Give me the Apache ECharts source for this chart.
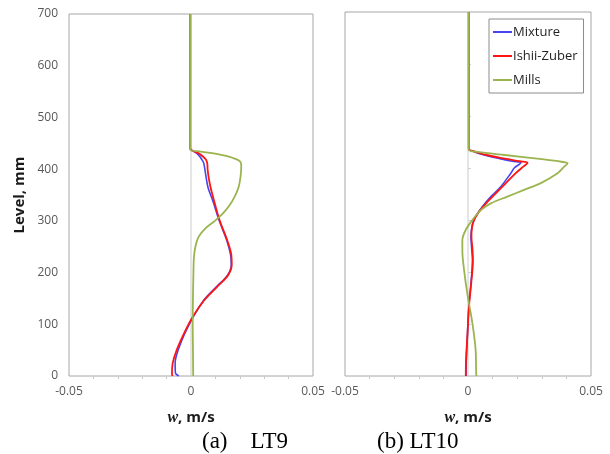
<!DOCTYPE html>
<html>
<head>
<meta charset="utf-8">
<script src="https://cdn.jsdelivr.net/npm/echarts@6/dist/echarts.min.js"></script>
<style>
  html, body { margin: 0; padding: 0; background: #fff; }
  #chart { width: 610px; height: 454px; }
</style>
</head>
<body>
<div id="chart"></div>
<script>
// [w (m/s), level (mm)]
var seriesNames = ['Mixture', 'Ishii-Zuber', 'Mills'];
var colores = ['#4646f0', '#ff1414', '#9bb44f'];
var levelTicks = [0, 100, 200, 300, 400, 500, 600, 700];
var wTicks = [-0.05, 0, 0.05];
var zeroLine = [[0, 0], [0, 700]];
var captions = ['(a)    LT9', '(b) LT10'];

var lt9Mixture = [[-0.0003,700],[-0.0003,440],[0.0005,436],[0.002,432],[0.0035,425],[0.0045,418],[0.0052,412],
    [0.0055,405],[0.006,390],[0.007,364],[0.009,338],[0.0116,300],[0.0146,263],[0.0162,235],[0.0165,215],
    [0.015,195],[0.0105,173],[0.0053,147],[0.001,115],[-0.0025,83],[-0.0052,51],[-0.0065,25],[-0.0064,6],[-0.005,0]];
var lt9Ishii = [[-0.0003,700],[-0.0003,440],[0.0005,436],[0.003,431],[0.005,424],[0.0062,418],[0.0067,410],
    [0.0068,400],[0.0072,385],[0.008,365],[0.0095,338],[0.0118,300],[0.0148,263],[0.0165,235],[0.0167,215],
    [0.0152,195],[0.0108,173],[0.0055,147],[0.0008,115],[-0.0028,83],[-0.0058,51],[-0.0075,25],[-0.0078,5],[-0.0076,0]];
var lt9Mills = [[-0.0003,700],[-0.0003,438],[0.004,434],[0.011,429],[0.017,422],[0.0203,414],[0.0206,405],[0.0203,385],
    [0.0195,365],[0.018,348],[0.0158,330],[0.013,314],[0.0098,300],[0.0058,285],[0.003,268],[0.0018,250],
    [0.0012,230],[0.001,200],[0.0008,150],[0.0007,100],[0.0008,50],[0.0009,0]];

var lt10Mixture = [[0.0003,700],[0.0003,437],[0.002,432],[0.0065,425],[0.013,418],[0.018,413],[0.0215,410],
    [0.0188,400],[0.0174,390],[0.0133,364],[0.0093,345],[0.0059,326],[0.0035,310],[0.002,295],[0.0014,281],
    [0.0012,268],[0.0015,245],[0.0018,223],[0.0012,178],[0.0004,139],[-0.0002,82],[-0.0007,30],[-0.0008,0]];
var lt10Ishii = [[0.0003,700],[0.0003,437],[0.0025,432],[0.0075,425],[0.015,418],[0.021,413],[0.0242,410],
    [0.0218,400],[0.0194,390],[0.0154,371],[0.0113,351],[0.0075,333],[0.0045,316],[0.0025,300],[0.0016,285],
    [0.0014,268],[0.0018,245],[0.002,223],[0.0013,178],[0.0005,139],[-0.0002,82],[-0.0008,30],[-0.0009,0]];
var lt10Mills = [[0.0003,700],[0.0003,435],[0.004,431],[0.015,425],[0.03,417],[0.038,412],[0.0405,409],
    [0.039,402],[0.0364,390],[0.0296,371],[0.0228,358],[0.016,345],[0.0093,332],[0.0052,319],[0.0018,300],
    [-0.0009,281],[-0.0023,261],[-0.0023,242],[-0.0016,204],[-0.0003,159],[0.0018,101],[0.0031,50],[0.0033,10],[0.0034,0]];

var paneles = [
    { data: [lt9Mixture, lt9Ishii, lt9Mills], grid: { left: 69, top: 14, width: 244, height: 362 }, labels: true },
    { data: [lt10Mixture, lt10Ishii, lt10Mills], grid: { left: 345, top: 12, width: 246, height: 364 }, labels: false }
];

var fuente = '"Open Sans", "Liberation Sans", sans-serif';

function armarOpciones() {
    var grids = [], xAxes = [], yAxes = [], series = [];
    paneles.forEach(function(p, i) {
        grids.push(Object.assign({ show: true, borderColor: '#a6a6a6', borderWidth: 1 }, p.grid));
        xAxes.push({
            type: 'value', gridIndex: i,
            min: wTicks[0], max: wTicks[wTicks.length - 1], interval: 0.05,
            axisLine: { show: false },
            axisTick: { show: false },
            minorTick: { show: true, splitNumber: 5, length: 3, lineStyle: { color: '#c8c8c8' } },
            splitLine: { show: false },
            axisLabel: {
                margin: 10, fontFamily: fuente, fontSize: 12, color: '#595959',
                formatter: function(v) { return Math.abs(v) < 1e-9 ? '0' : v.toFixed(2); }
            },
            name: '{w|w}{n|, m/s}',
            nameLocation: 'middle', nameGap: 34,
            nameTextStyle: {
                rich: {
                    w: { fontFamily: '"Liberation Serif", serif', fontStyle: 'italic', fontWeight: 'bold', fontSize: 16, color: '#1a1a1a' },
                    n: { fontFamily: fuente, fontWeight: 'bold', fontSize: 15, color: '#1a1a1a' }
                }
            }
        });
        yAxes.push({
            type: 'value', gridIndex: i,
            min: levelTicks[0], max: levelTicks[levelTicks.length - 1], interval: 100,
            axisLine: { show: false },
            axisTick: { show: !p.labels, inside: true, length: 3, lineStyle: { color: '#d0d0d0' } },
            splitLine: { show: false },
            axisLabel: { show: p.labels, margin: 11, fontFamily: fuente, fontSize: 12, color: '#595959' },
            name: p.labels ? 'Level, mm' : '',
            nameLocation: 'middle', nameGap: 42,
            nameTextStyle: { fontFamily: fuente, fontWeight: 'bold', fontSize: 15, color: '#1a1a1a' }
        });
        // zero reference line, drawn first so the curves sit over it
        series.push({
            name: 'cero', type: 'line', xAxisIndex: i, yAxisIndex: i,
            data: zeroLine, symbol: 'none', silent: true,
            lineStyle: { color: '#cccccc', width: 1 }
        });
        p.data.forEach(function(d, k) {
            series.push({
                name: seriesNames[k], type: 'line',
                xAxisIndex: i, yAxisIndex: i,
                data: d, symbol: 'none',
                smooth: 0.35,
                lineStyle: { color: colores[k], width: k === 0 ? 1.6 : 1.8 },
                itemStyle: { color: colores[k] }
            });
        });
    });

    return {
        backgroundColor: '#fff',
        animation: false,
        grid: grids, xAxis: xAxes, yAxis: yAxes, series: series,
        legend: {
            data: seriesNames,
            orient: 'vertical',
            left: 489, top: 19,
            padding: [4, 6, 4, 4],
            icon: 'rect',
            itemGap: 6, itemWidth: 19, itemHeight: 2,
            borderColor: '#8c8c8c', borderWidth: 1,
            textStyle: { fontFamily: fuente, fontSize: 13, color: '#1f1f1f', lineHeight: 18, padding: [0, 0, 0, -4] }
        },
        graphic: [
            { type: 'text', left: 202, top: 430, style: { text: captions[0], font: '23px "Liberation Serif", serif', fill: '#000' } },
            { type: 'text', left: 377, top: 430, style: { text: captions[1], font: '23px "Liberation Serif", serif', fill: '#000' } }
        ]
    };
}

var grafico = echarts.init(document.getElementById('chart'));
grafico.setOption(armarOpciones());
</script>
</body>
</html>
